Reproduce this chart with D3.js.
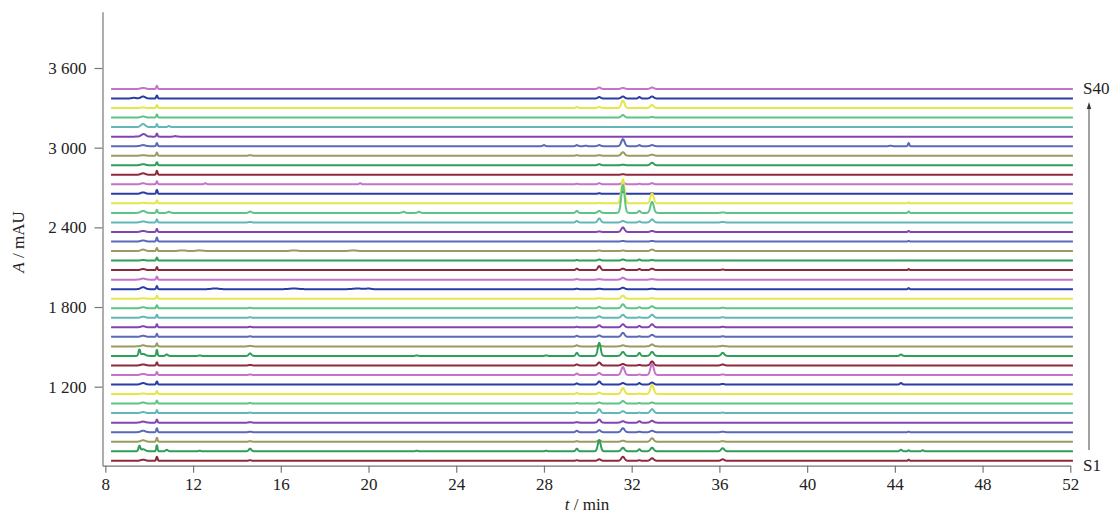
<!DOCTYPE html>
<html><head><meta charset="utf-8">
<script src="https://cdn.jsdelivr.net/npm/d3@7"></script>
<style>body{margin:0;background:#fff}svg{display:block}</style>
</head><body><svg id="c" width="1113" height="515"></svg>
<script>
// ---------- data ----------
const sampleNames = d3.range(1, 41).map(i => "S" + i);
const xTicks = [8, 12, 16, 20, 24, 28, 32, 36, 40, 44, 48, 52];
const yTicks = [1200, 1800, 2400, 3000, 3600];
const baseStart = 642;      // baseline of S1 (mAU)
const offsetStep = 71.8;    // stacking offset between samples (mAU)
const tStart = 8.26, tEnd = 52.12;
// common peaks (retention time, min) and widths (sigma, min)
const peakTimes  = [9.55, 9.72, 10.35, 14.6, 29.5, 30.52, 31.6, 32.35, 32.93, 36.15, 44.28, 44.63, 45.27];
const peakSigmas = [0.04, 0.10, 0.03, 0.06, 0.05, 0.065, 0.075, 0.05, 0.075, 0.07, 0.05, 0.03, 0.04];
// peak heights (mAU) per sample, S1..S40
const peakHeights = [
  [0, 8, 30, 4, 4, 11, 30, 4, 19, 11, 0, 8, 0],
  [38, 15, 45, 19, 19, 83, 26, 15, 26, 23, 11, 8, 8],
  [0, 11, 30, 4, 4, 11, 8, 0, 26, 4, 0, 0, 0],
  [0, 11, 30, 4, 11, 15, 30, 4, 11, 4, 0, 4, 0],
  [0, 8, 23, 4, 4, 23, 11, 11, 15, 0, 0, 0, 0],
  [0, 8, 23, 4, 8, 30, 15, 4, 30, 4, 0, 0, 0],
  [0, 8, 23, 4, 4, 8, 19, 4, 8, 0, 0, 0, 0],
  [0, 4, 23, 0, 8, 11, 45, 4, 68, 0, 0, 0, 0],
  [0, 11, 23, 0, 8, 23, 11, 11, 15, 4, 11, 0, 0],
  [0, 8, 23, 4, 11, 15, 60, 4, 83, 4, 0, 0, 0],
  [0, 8, 23, 4, 8, 23, 11, 4, 30, 8, 0, 0, 0],
  [45, 15, 45, 19, 23, 98, 30, 23, 30, 23, 11, 0, 0],
  [0, 8, 23, 4, 8, 8, 8, 0, 15, 4, 0, 0, 0],
  [0, 8, 23, 4, 8, 11, 30, 4, 15, 4, 0, 0, 0],
  [0, 8, 23, 4, 4, 15, 23, 11, 23, 4, 0, 0, 0],
  [0, 8, 23, 4, 4, 11, 23, 4, 23, 4, 0, 0, 0],
  [0, 8, 23, 4, 8, 11, 30, 8, 15, 4, 0, 0, 0],
  [0, 4, 23, 0, 0, 4, 23, 0, 4, 0, 0, 0, 0],
  [0, 15, 23, 0, 4, 4, 11, 0, 4, 0, 0, 8, 0],
  [0, 8, 23, 0, 4, 4, 15, 0, 4, 0, 0, 0, 0],
  [0, 8, 23, 0, 11, 30, 11, 8, 11, 4, 0, 8, 0],
  [0, 4, 23, 0, 4, 8, 8, 8, 4, 0, 0, 0, 0],
  [0, 11, 23, 0, 0, 4, 4, 0, 11, 0, 0, 0, 0],
  [0, 8, 30, 0, 0, 0, 4, 0, 4, 0, 0, 4, 0],
  [0, 8, 23, 0, 0, 4, 34, 0, 8, 0, 0, 8, 0],
  [0, 8, 23, 4, 11, 30, 11, 8, 23, 4, 0, 0, 0],
  [0, 15, 23, 4, 15, 15, 211, 15, 83, 4, 0, 11, 0],
  [0, 4, 23, 0, 0, 4, 181, 0, 75, 0, 0, 8, 0],
  [0, 11, 30, 0, 0, 4, 15, 0, 4, 0, 0, 0, 0],
  [0, 8, 23, 0, 4, 8, 15, 4, 8, 0, 0, 0, 0],
  [0, 11, 30, 0, 0, 0, 4, 0, 0, 0, 0, 0, 0],
  [0, 8, 23, 0, 0, 8, 4, 0, 19, 0, 0, 0, 0],
  [0, 4, 23, 4, 4, 4, 26, 0, 8, 0, 0, 0, 0],
  [0, 8, 23, 0, 8, 8, 53, 8, 8, 0, 0, 23, 0],
  [0, 15, 23, 0, 0, 0, 0, 0, 0, 0, 0, 0, 0],
  [0, 23, 23, 0, 0, 0, 0, 0, 0, 0, 0, 0, 0],
  [0, 8, 23, 0, 0, 0, 19, 0, 4, 0, 0, 0, 0],
  [0, 4, 23, 0, 8, 8, 56, 0, 23, 0, 0, 0, 0],
  [0, 15, 23, 0, 0, 11, 15, 11, 15, 0, 0, 0, 0],
  [0, 8, 23, 0, 0, 11, 8, 0, 11, 0, 0, 0, 0]
];
// minor sample-specific peaks: [sample index (0 = S1), time, height, sigma]
const extraPeaks = [
  [1, 10.8, 11, 0.05], [1, 12.3, 4, 0.05], [1, 22.2, 4, 0.05], [1, 28.1, 4, 0.05],
  [11, 10.8, 11, 0.05], [11, 12.3, 4, 0.05], [11, 22.2, 4, 0.05], [11, 28.1, 4, 0.05],
  [29, 12.56, 8, 0.05], [29, 19.62, 8, 0.05], [35, 10.9, 8, 0.05],
  [33, 28.0, 8, 0.05], [33, 29.9, 4, 0.05], [33, 43.8, 4, 0.05],
  [26, 10.9, 8, 0.06], [26, 21.6, 8, 0.06], [26, 22.3, 8, 0.06], [26, 14.6, 6, 0.06],
  [18, 13.0, 6, 0.15], [18, 16.6, 5, 0.2], [18, 19.5, 5, 0.2], [18, 20.0, 5, 0.1],
  [22, 11.5, 5, 0.15], [22, 12.3, 5, 0.15], [22, 16.6, 5, 0.15], [22, 19.3, 5, 0.15],
  [38, 9.3, 5, 0.1], [34, 9.8, 6, 0.08], [34, 11.2, 4, 0.05]
];
const palette = ["#8c2a3c", "#2f9e58", "#9b9a62", "#5b6ab8", "#8444b0",
                 "#62b8b8", "#5ec486", "#e6e64a", "#2a3ca6", "#c572c8"];

// ---------- chart ----------
const svg = d3.select("#c");
const font = "'Liberation Serif','Times New Roman',serif";
const x = d3.scaleLinear().domain([7.87, 52]).range([102.5, 1070.3]);
const y = d3.scaleLinear().domain([605, 4024]).range([465.7, 11.7]);

const times = d3.range(tStart, tEnd + 1e-9, 0.01);
const series = peakHeights.map((row, si) => {
  const base = baseStart + si * offsetStep;
  const ex = extraPeaks.filter(e => e[0] === si);
  const pts = times.map(t => {
    let v = base;
    row.forEach((h, k) => {
      if (h) { const d = (t - peakTimes[k]) / peakSigmas[k]; if (Math.abs(d) < 6) v += h * Math.exp(-0.5 * d * d); }
    });
    ex.forEach(e => { const d = (t - e[1]) / e[3]; if (Math.abs(d) < 6) v += e[2] * Math.exp(-0.5 * d * d); });
    return [t, v];
  });
  return { i: si, pts };
});

const line = d3.line().x(d => x(d[0])).y(d => y(d[1]));
// draw top sample first so lower samples sit on top
svg.append("g").selectAll("path").data(series.slice().reverse()).join("path")
  .attr("d", d => line(d.pts))
  .attr("fill", "none")
  .attr("stroke", d => palette[d.i % palette.length])
  .attr("stroke-width", 2)
  .attr("stroke-linejoin", "round");

const xAxis = svg.append("g").attr("transform", "translate(0,465.7)")
  .call(d3.axisBottom(x).tickValues(xTicks).tickSize(7).tickSizeOuter(0).tickPadding(5));
const yAxis = svg.append("g").attr("transform", "translate(102.5,0)")
  .call(d3.axisLeft(y).tickValues(yTicks).tickFormat(d => d3.format(",")(d).replace(/,/g, " ")).tickSize(8).tickSizeOuter(0).tickPadding(8));
[xAxis, yAxis].forEach(g => {
  g.selectAll("path,line").attr("stroke", "#777").attr("stroke-width", 1.2);
  g.selectAll("text").attr("fill", "#222").style("font-family", font).style("font-size", "17px");
});

// axis titles
const xt = svg.append("text").attr("x", 587).attr("y", 510).attr("text-anchor", "middle")
  .style("font-family", font).style("font-size", "17px").attr("fill", "#222");
xt.append("tspan").attr("font-style", "italic").text("t");
xt.append("tspan").text(" / min");
const yt = svg.append("text").attr("transform", "translate(24,242) rotate(-90)").attr("text-anchor", "middle")
  .style("font-family", font).style("font-size", "17px").attr("fill", "#222");
yt.append("tspan").attr("font-style", "italic").text("A");
yt.append("tspan").text(" / mAU");

// sample labels and arrow
svg.append("text").attr("x", 1083).attr("y", 94).text(sampleNames[39])
  .style("font-family", font).style("font-size", "17px").attr("fill", "#222");
svg.append("text").attr("x", 1083).attr("y", 471).text(sampleNames[0])
  .style("font-family", font).style("font-size", "17px").attr("fill", "#222");
svg.append("line").attr("x1", 1089).attr("x2", 1089).attr("y1", 450).attr("y2", 107)
  .attr("stroke", "#444").attr("stroke-width", 1);
svg.append("path").attr("d", "M1089,102 L1086.8,109 L1091.2,109 Z").attr("fill", "#333");
</script></body></html>
